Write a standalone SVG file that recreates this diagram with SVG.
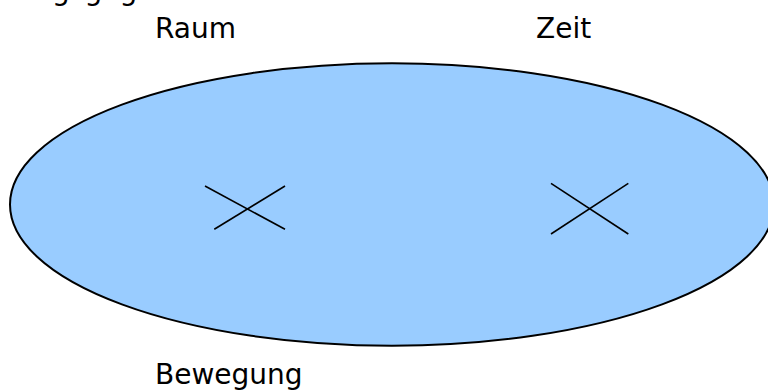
<svg xmlns="http://www.w3.org/2000/svg" width="768" height="392" viewBox="0 0 768 392">
<style>
.t{font-family:"DejaVu Sans",Verdana,sans-serif;font-size:28px;fill:#000}
.x{stroke:#000;stroke-width:1.6;fill:none}
</style>
<rect width="768" height="392" fill="#fff"/>
<g id="title"><text class="t" x="-103" y="0">Anschauungsgegenstand</text></g>
<g id="ellipse"><ellipse cx="392" cy="204.5" rx="382" ry="141.2" fill="#99ccff" stroke="#000" stroke-width="2"/></g>
<g id="raum"><text class="t" x="155" y="38">Raum</text></g>
<g id="zeit"><text class="t" x="536" y="38">Zeit</text></g>
<g id="bewegung"><text class="t" x="155" y="384">Bewegung</text></g>
<g id="cross-raum"><line class="x" x1="205" y1="186" x2="285" y2="229.3"/><line class="x" x1="214.3" y1="229.3" x2="285" y2="186"/></g>
<g id="cross-zeit"><line class="x" x1="551" y1="183.3" x2="628.3" y2="234"/><line class="x" x1="551" y1="234" x2="628.3" y2="183.3"/></g>
</svg>
